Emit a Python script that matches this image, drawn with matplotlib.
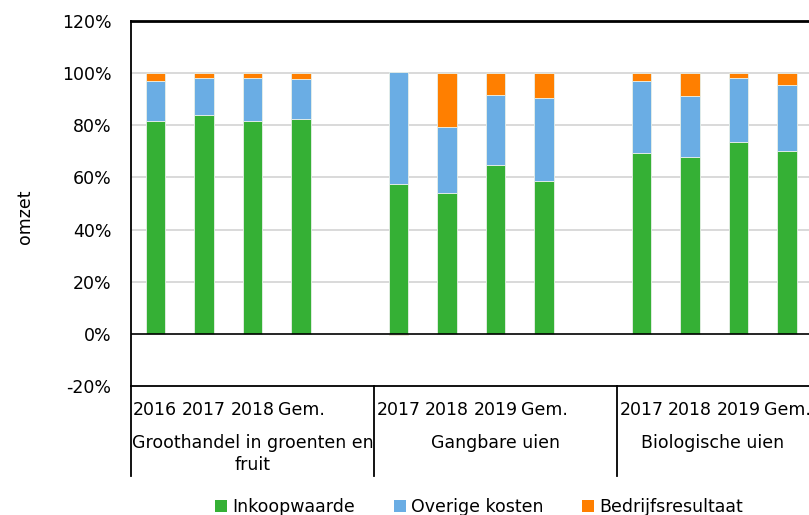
import matplotlib.pyplot as plt
from matplotlib.patches import Patch
import matplotlib.transforms as mtransforms

# data (percent of turnover)
groups = ["Groothandel in groenten en\nfruit", "Gangbare uien", "Biologische uien"]
years = [
    ["2016", "2017", "2018", "Gem."],
    ["2017", "2018", "2019", "Gem."],
    ["2017", "2018", "2019", "Gem."],
]
inkoopwaarde = [81.7, 83.8, 81.7, 82.6, 57.6, 54.1, 64.6, 58.7, 69.3, 67.9, 73.7, 70.2]
overige_kosten = [15.2, 14.2, 16.3, 15.1, 42.9, 25.2, 27.1, 31.8, 27.5, 23.5, 24.5, 25.2]
bedrijfsresultaat = [3.1, 2.0, 2.0, 2.3, -0.5, 20.7, 8.3, 9.5, 3.2, 8.6, 1.8, 4.6]

series_names = ["Inkoopwaarde", "Overige kosten", "Bedrijfsresultaat"]
colors = ["#35b035", "#6aade4", "#ff7f00"]

plt.rcParams["font.family"] = "DejaVu Sans"
plt.rcParams["font.size"] = 12.5

W, H = 809, 515
fig = plt.figure(figsize=(W / 100, H / 100), dpi=100)
ax = fig.add_axes([131 / W, 1 - 386 / H, (809 - 131) / W, (386 - 21) / H])

# 5 slots per group, last slot of each group stays empty
positions = []
for g in range(len(groups)):
    for i in range(4):
        positions.append(g * 5 + i)

bw = 0.4
edge = dict(edgecolor="#e8f0e8", linewidth=0.6)
ax.bar(positions, inkoopwaarde, bw, color=colors[0], zorder=3, **edge)
ax.bar(positions, overige_kosten, bw, bottom=inkoopwaarde, color=colors[1], zorder=3, **edge)
orange_bottom = [g + b if r >= 0 else 0 for g, b, r in zip(inkoopwaarde, overige_kosten, bedrijfsresultaat)]
ax.bar(positions, bedrijfsresultaat, bw, bottom=orange_bottom, color=colors[2], zorder=3, **edge)

ax.set_xlim(-0.5, -0.5 + (809 - 131) / 48.6)
ax.set_ylim(-20, 120)
ax.set_yticks(range(-20, 121, 20))
ax.set_yticklabels([f"{v}%" for v in range(-20, 121, 20)])
ax.tick_params(axis="y", length=0, pad=14)
ax.set_xticks([])

for v in range(20, 101, 20):
    ax.axhline(v, color="#d9d9d9", lw=1.4, zorder=1)
ax.axhline(0, color="black", lw=1.2, zorder=4)

ax.spines["right"].set_visible(False)
ax.spines["top"].set_linewidth(2)
ax.spines["left"].set_linewidth(1.3)
ax.spines["bottom"].set_linewidth(1.3)

fig.text(25 / W, 1 - 217 / H, "omzet", rotation=90, ha="center", va="center")

# category axis below the plot
trans = mtransforms.blended_transform_factory(ax.transData, ax.transAxes)
ax_h = 386 - 21
for xsep in [-0.5, 4.5, 9.5]:
    ax.plot([xsep, xsep], [0, -90 / ax_h], transform=trans, color="black", lw=1.3, clip_on=False)

for g, labels in enumerate(years):
    for i, lab in enumerate(labels):
        ax.text(g * 5 + i, -24 / ax_h, lab, transform=trans, ha="center", va="center")

xmax = ax.get_xlim()[1]
group_centers = [2.0, 7.0, (9.5 + xmax) / 2]
for gc, name in zip(group_centers, groups):
    if "\n" in name:
        ax.text(gc, -68 / ax_h, name, transform=trans, ha="center", va="center", linespacing=1.25)
    else:
        ax.text(gc, -57 / ax_h, name, transform=trans, ha="center", va="center")

handles = [Patch(facecolor=c, edgecolor="none") for c in colors]
fig.legend(handles, series_names, loc="center", bbox_to_anchor=(479 / W, 1 - 507 / H),
           ncol=3, frameon=False, handlelength=0.7, handleheight=0.7,
           handletextpad=0.3, columnspacing=2.2)

fig.savefig("out.png", dpi=100)
